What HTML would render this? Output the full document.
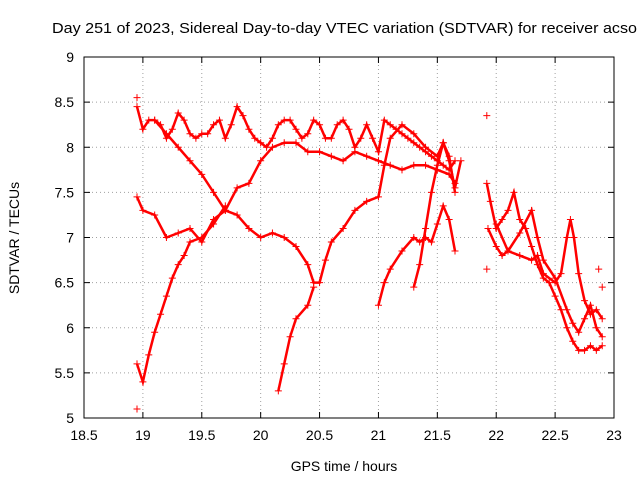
<!DOCTYPE html>
<html><head><meta charset="utf-8"><style>
body{margin:0;background:#fff}
svg{display:block;font-family:"Liberation Sans",sans-serif}
</style></head><body>
<svg id="chart" width="640" height="480" viewBox="0 0 640 480" xmlns="http://www.w3.org/2000/svg">
<text x="52" y="33" font-size="15" textLength="585" lengthAdjust="spacingAndGlyphs" fill="#000">Day 251 of 2023, Sidereal Day-to-day VTEC variation (SDTVAR) for receiver acso</text>
<g id="grid"></g>
<g id="ticks"></g>
<g id="marks"></g>
<rect x="84" y="57" width="530" height="361" fill="none" stroke="#000" stroke-width="1"/>
<text x="344" y="471" font-size="14" text-anchor="middle">GPS time / hours</text>
<text transform="translate(19,238) rotate(-90)" font-size="14" text-anchor="middle">SDTVAR / TECUs</text>
</svg>
<script>
const xTicks=[18.5,19,19.5,20,20.5,21,21.5,22,22.5,23];
const yTicks=[5,5.5,6,6.5,7,7.5,8,8.5,9];
const traceA=[[18.95,8.45],[19.0,8.2],[19.05,8.3],[19.1,8.3],[19.15,8.25],[19.2,8.1],[19.25,8.2],[19.3,8.38],[19.35,8.3],[19.4,8.15],[19.45,8.1],[19.5,8.15],[19.55,8.15],[19.6,8.25],[19.65,8.3],[19.7,8.1],[19.75,8.25],[19.8,8.45],[19.85,8.35],[19.9,8.2],[19.95,8.1],[20.0,8.05],[20.05,8.0],[20.1,8.1],[20.15,8.25],[20.2,8.3],[20.25,8.3],[20.3,8.2],[20.35,8.1],[20.4,8.15],[20.45,8.3],[20.5,8.25],[20.55,8.1],[20.6,8.1],[20.65,8.25],[20.7,8.3],[20.75,8.2],[20.8,8.0],[20.85,8.1],[20.9,8.25],[20.95,8.1],[21.0,7.95],[21.05,8.3],[21.1,8.25],[21.15,8.2],[21.2,8.15],[21.25,8.1],[21.3,8.05],[21.35,8.0],[21.4,7.95],[21.45,7.9],[21.5,7.85],[21.55,7.8],[21.6,7.75],[21.65,7.85]];
const traceB=[[19.1,8.3],[19.2,8.15],[19.3,8.0],[19.4,7.85],[19.5,7.7],[19.6,7.5],[19.7,7.3],[19.8,7.25],[19.9,7.1],[20.0,7.0],[20.1,7.05],[20.2,7.0],[20.3,6.9],[20.4,6.7],[20.45,6.5],[20.5,6.5],[20.55,6.75],[20.6,6.95],[20.7,7.1],[20.8,7.3],[20.9,7.4],[21.0,7.45],[21.05,7.8],[21.1,8.1],[21.2,8.25],[21.3,8.15],[21.4,8.0],[21.5,7.9],[21.55,8.05],[21.6,7.9],[21.65,7.5]];
const traceC=[[18.95,7.45],[19.0,7.3],[19.1,7.25],[19.2,7.0],[19.3,7.05],[19.4,7.1],[19.5,6.95],[19.6,7.2],[19.7,7.3],[19.8,7.55],[19.9,7.6],[20.0,7.85],[20.1,8.0],[20.2,8.05],[20.3,8.05],[20.4,7.95],[20.5,7.95],[20.6,7.9],[20.7,7.85],[20.8,7.95],[20.9,7.9],[21.0,7.85],[21.1,7.8],[21.2,7.75],[21.3,7.8],[21.4,7.8],[21.5,7.75],[21.6,7.7],[21.65,7.6]];
const traceD=[[18.95,5.6],[19.0,5.4],[19.05,5.7],[19.1,5.95],[19.15,6.15],[19.2,6.35],[19.25,6.55],[19.3,6.7],[19.35,6.8],[19.4,6.95],[19.5,7.0],[19.6,7.15],[19.7,7.35]];
const traceE=[[20.15,5.3],[20.2,5.6],[20.25,5.9],[20.3,6.1],[20.4,6.25],[20.45,6.45]];
const traceF=[[21.0,6.25],[21.05,6.5],[21.1,6.65],[21.2,6.85],[21.3,7.0],[21.35,6.95],[21.4,7.0],[21.45,6.95],[21.5,7.15],[21.55,7.35],[21.6,7.2],[21.65,6.85]];
const traceG=[[21.3,6.45],[21.35,6.7],[21.4,7.1],[21.45,7.5],[21.5,7.8],[21.55,8.05],[21.6,7.85],[21.65,7.55],[21.7,7.85]];
const traceH=[[21.92,7.6],[21.95,7.4],[22.0,7.1],[22.05,7.2],[22.1,7.3],[22.15,7.5],[22.2,7.2],[22.25,7.1],[22.3,6.9],[22.35,6.7],[22.4,6.55],[22.45,6.5],[22.5,6.35],[22.55,6.2],[22.6,6.0],[22.65,5.85],[22.7,5.75],[22.75,5.75],[22.8,5.8],[22.85,5.75],[22.9,5.8]];
const traceI=[[21.93,7.1],[22.0,6.9],[22.05,6.8],[22.1,6.85],[22.2,6.8],[22.3,6.75],[22.35,6.8],[22.4,6.6],[22.5,6.5],[22.55,6.6],[22.6,7.0],[22.63,7.2],[22.66,7.0],[22.7,6.6],[22.75,6.3],[22.8,6.15],[22.85,6.2],[22.9,6.1]];
const traceJ=[[22.0,7.15],[22.1,6.85],[22.2,7.05],[22.3,7.3],[22.35,7.0],[22.4,6.75],[22.5,6.55],[22.6,6.2],[22.65,6.05],[22.7,5.95],[22.75,6.1],[22.8,6.25],[22.85,6.0],[22.9,5.9]];
const isolated=[[21.92,8.35],[21.92,6.65],[22.87,6.65],[22.9,6.45],[18.95,5.1],[18.95,8.55]];
const traces=[traceA,traceB,traceC,traceD,traceE,traceF,traceG,traceH,traceI,traceJ];

const X0=84,X1=614,Y0=418,Y1=57,xmin=18.5,xmax=23,ymin=5,ymax=9;
const sx=v=>X0+(v-xmin)/(xmax-xmin)*(X1-X0);
const sy=v=>Y0-(v-ymin)/(ymax-ymin)*(Y0-Y1);
const NS="http://www.w3.org/2000/svg";
const mk=(t,a,p)=>{const e=document.createElementNS(NS,t);for(const k in a)e.setAttribute(k,a[k]);p.appendChild(e);return e;};
const grid=document.getElementById('grid'),ticks=document.getElementById('ticks'),marks=document.getElementById('marks');
xTicks.forEach(v=>{
  const x=sx(v);
  if(v>xmin&&v<xmax){const g=mk('line',{x1:x,x2:x,y1:Y1,y2:Y0,stroke:'#a0a0a0','stroke-dasharray':'1,3'},grid);
  
  }
  mk('line',{x1:x,x2:x,y1:Y0,y2:Y0-6,stroke:'#000'},ticks);
  mk('line',{x1:x,x2:x,y1:Y1,y2:Y1+6,stroke:'#000'},ticks);
  const t=mk('text',{x:x,y:Y0+22,'font-size':14,'text-anchor':'middle'},ticks);t.textContent=v;
  
  
});
yTicks.forEach(v=>{
  const y=sy(v);
  if(v>ymin&&v<ymax){const g=mk('line',{x1:X0,x2:X1,y1:y,y2:y,stroke:'#a0a0a0','stroke-dasharray':'1,3'},grid);
  
  }
  mk('line',{x1:X0,x2:X0+6,y1:y,y2:y,stroke:'#000'},ticks);
  mk('line',{x1:X1,x2:X1-6,y1:y,y2:y,stroke:'#000'},ticks);
  const t=mk('text',{x:X0-10,y:y+5,'font-size':14,'text-anchor':'end'},ticks);t.textContent=v;
  
  
});
function plus(x,y){
  mk('path',{d:`M${x-3.5},${y}h7M${x},${y-3.5}v7`,stroke:'#f00','stroke-width':1},marks);
}
traces.forEach((tr,i)=>{
  const pl=mk('polyline',{points:tr.map(p=>sx(p[0])+','+sy(p[1])).join(' '),fill:'none',stroke:'#f00','stroke-width':2.5},marks);
  
  
  tr.forEach(p=>plus(sx(p[0]),sy(p[1])));
});
isolated.forEach(p=>plus(sx(p[0]),sy(p[1])));
</script>
</body></html>
